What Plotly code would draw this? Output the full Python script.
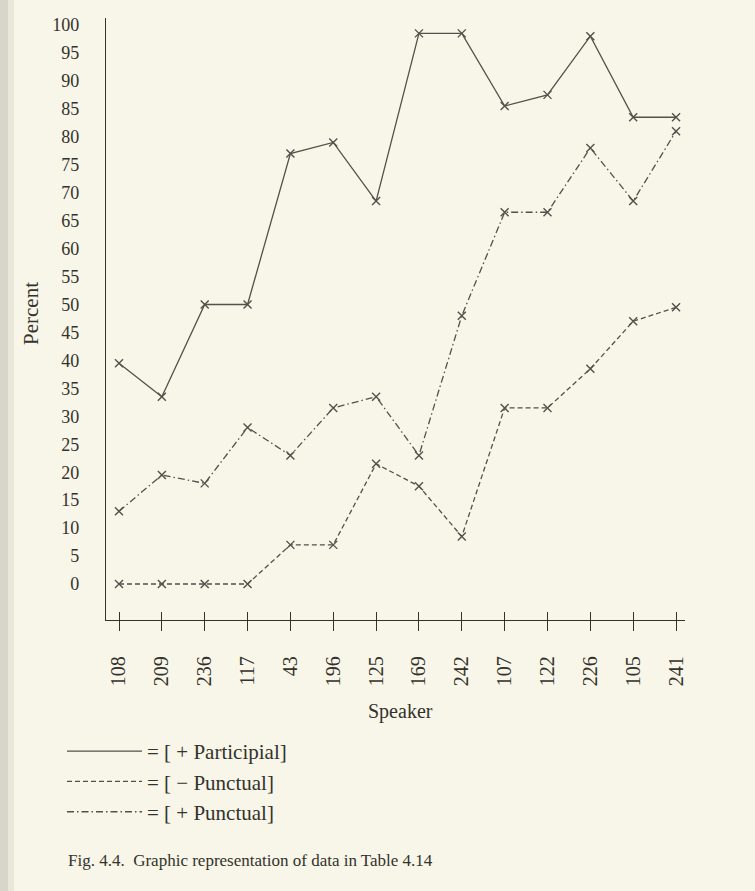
import plotly.graph_objects as go

speakers = ["108", "209", "236", "117", "43", "196", "125", "169", "242", "107", "122", "226", "105", "241"]
plus_participial = [39.5, 33.5, 50, 50, 77, 79, 68.5, 98.5, 98.5, 85.5, 87.5, 98, 83.5, 83.5]
minus_punctual = [0, 0, 0, 0, 7, 7, 21.5, 17.5, 8.5, 31.5, 31.5, 38.5, 47, 49.5]
plus_punctual = [13, 19.5, 18, 28, 23, 31.5, 33.5, 23, 48, 66.5, 66.5, 78, 68.5, 81]
y_ticks = list(range(0, 101, 5))

names = ["= [ + Participial]", "= [ \u2212 Punctual]", "= [ + Punctual]"]
series = [plus_participial, minus_punctual, plus_punctual]
dashes = ["solid", "5px,3px", "7px,3px,1.5px,3px"]

BG = "#f8f6e8"
INK = "#33322d"
LINE = "#52514b"
FONT = "Liberation Serif"

W, H = 755, 891
L, R, T, B = 106, 70, 18, 271
PW, PH = W - L - R, H - T - B

def px(x):
    return (x - L) / PW

def py(y):
    return (H - B - y) / PH

fig = go.Figure()
idx = list(range(len(speakers)))
for name, vals, dash in zip(names, series, dashes):
    fig.add_trace(go.Scatter(
        x=idx, y=vals, name=name, mode="lines+markers", showlegend=False,
        line=dict(color=LINE, width=1.3, dash=dash),
        marker=dict(symbol="x-thin", size=8, line=dict(color=LINE, width=1.4)),
    ))
# legend entries (line samples only, like the printed key)
for name, dash in zip(names, dashes):
    fig.add_trace(go.Scatter(
        x=[None], y=[None], name=name, mode="lines",
        line=dict(color=LINE, width=1.3, dash=dash),
    ))
# overlay axis giving the inward half of the crossing ticks
fig.add_trace(go.Scatter(x=idx, y=[None] * len(idx), xaxis="x2", showlegend=False, hoverinfo="skip"))

spacing = 42.85
x0 = -(119 - L) / spacing
x1 = x0 + PW / spacing
unit = 5.59
fig.update_layout(
    width=W, height=H,
    margin=dict(l=L, r=R, t=T, b=B),
    paper_bgcolor=BG, plot_bgcolor=BG,
    font=dict(family=FONT, color=INK, size=17),
    showlegend=True,
    legend=dict(
        x=px(62), y=py(731), xanchor="left", yanchor="top",
        bgcolor="rgba(0,0,0,0)", font=dict(family=FONT, size=21, color=INK),
        itemwidth=75, tracegroupgap=0,
    ),
    xaxis=dict(
        range=[x0, x1], tickmode="array", tickvals=idx, ticktext=speakers,
        tickangle=-90, ticks="outside", ticklen=10, tickwidth=1.2, tickcolor=INK,
        ticklabelstandoff=17,
        showline=True, linecolor=INK, linewidth=1.3, showgrid=False, zeroline=False,
        tickfont=dict(family=FONT, size=20, color=INK),
    ),
    xaxis2=dict(
        overlaying="x", range=[x0, x1], tickmode="array", tickvals=idx,
        ticks="inside", ticklen=8, tickwidth=1.2, tickcolor=INK,
        showticklabels=False, showline=False, showgrid=False, zeroline=False,
    ),
    yaxis=dict(
        range=[-(620 - 584) / unit, (584 - 18) / unit],
        tickmode="array", tickvals=y_ticks, ticks="",
        showline=True, linecolor=INK, linewidth=1.3, showgrid=False, zeroline=False,
        ticklabelstandoff=22,
        tickfont=dict(family=FONT, size=18, color=INK),
    ),
    shapes=[
        dict(type="rect", xref="paper", yref="paper", layer="below",
             x0=px(0), x1=px(8), y0=py(891), y1=py(0),
             fillcolor="#d8d6ca", line=dict(width=0)),
        dict(type="rect", xref="paper", yref="paper", layer="below",
             x0=px(8), x1=px(14), y0=py(891), y1=py(0),
             fillcolor="#e9e7da", line=dict(width=0)),
    ],
    annotations=[
        dict(text="Speaker", x=px(400), y=py(711), xref="paper", yref="paper",
             xanchor="center", yanchor="middle",
             showarrow=False, font=dict(family=FONT, size=20, color=INK)),
        dict(text="Percent", x=px(31), y=py(314), xref="paper", yref="paper",
             xanchor="center", yanchor="middle",
             showarrow=False, textangle=-90, font=dict(family=FONT, size=21, color=INK)),
        dict(text="Fig. 4.4.  Graphic representation of data in Table 4.14",
             x=px(66), y=py(860), xref="paper", yref="paper", xanchor="left", yanchor="middle",
             showarrow=False, font=dict(family=FONT, size=17, color=INK)),
    ],
)

fig.write_html("out.html", config={"displayModeBar": False},
               post_script="document.body.style.margin='0';document.body.style.background='%s';" % BG)
